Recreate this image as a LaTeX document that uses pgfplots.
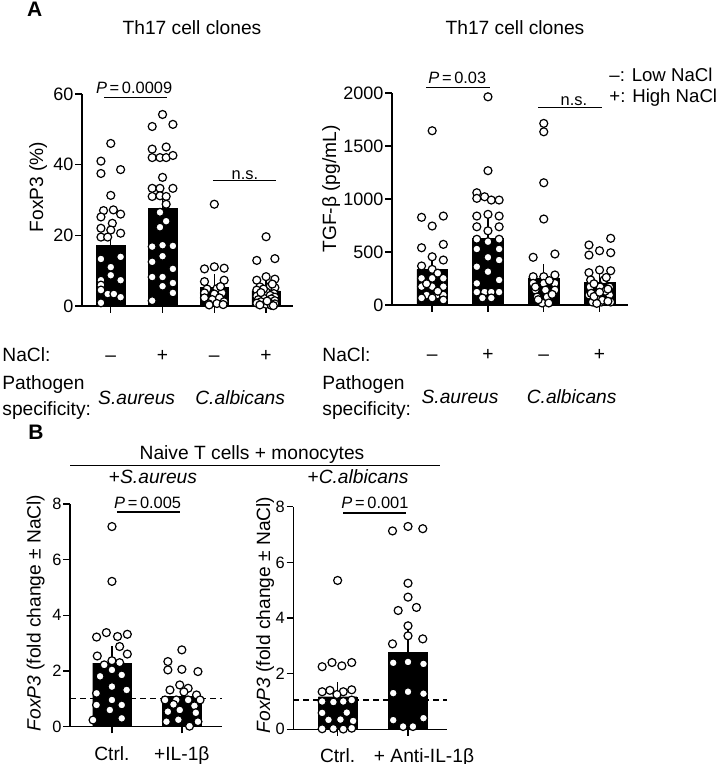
\documentclass[border=0pt]{standalone}
\usepackage{pgfplots}
\pgfplotsset{compat=1.18}
\usepackage{fontspec}
\setmainfont{Liberation Sans}
\newcommand{\lab}{\fontsize{9.6}{11}\selectfont}
\newcommand{\tck}{\fontsize{9}{10}\selectfont}
\newcommand{\tckB}{\fontsize{8.2}{9}\selectfont}
\newcommand{\pv}{\fontsize{8.2}{9.5}\selectfont}
\pgfplotsset{
  panel/.style={
    scale only axis, clip=false,
    axis x line*=bottom, axis y line*=left,
    axis line style={-, line width=0.75pt, black},
    tick align=outside, major tick length=3.3pt,
    tick style={line width=0.7pt, black},
    /pgf/number format/assume math mode=true,
    /pgf/number format/1000 sep={},
    scaled ticks=false,
    ymin=0,
    yticklabel style={inner xsep=0.8pt},
  },
  dots/.style={only marks, mark=*, mark size=2pt,
    mark options={fill=white, draw=black, line width=0.6pt}},
  bars/.style={ybar, bar width=0.55, bar shift=0pt, fill=black, draw=black, line width=0.2pt,
    error bars/.cd, y dir=plus, y explicit,
    error bar style={line width=0.7pt, black},
    error mark options={line width=0.7pt, mark size=4pt, black}},
}
\begin{document}
\begin{tikzpicture}
\useasboundingbox (0,0) rectangle (360pt,382pt);

% ---------------- A left ----------------
\begin{axis}[panel, at={(41pt,229pt)}, anchor=south west,
  width=105.5pt, height=106pt, xmin=-0.556, xmax=3.52, ymax=60,
  ytick={0,20,40,60}, xtick={0,1,2,3},
  xticklabels={\textendash,+,\textendash,+},
  xticklabel style={font=\lab, anchor=base, yshift=-24.7pt},
  yticklabel style={font=\tck}]
\addplot[bars] coordinates {(0,17.2) +- (0,2.3) (1,27.7) +- (0,2.2) (2,5.3) +- (0,1.5) (3,4.3) +- (0,0.9)};
\addplot[dots] coordinates {(0,46) (-0.19,41) (-0.19,37.5) (0.19,38.6) (0,31.3) (-0.14,27) (0.05,27.2) (-0.19,25.2) (0.19,26) (0.03,23.4) (-0.19,22) (0,21.5) (0.19,20.6) (-0.19,19.5) (-0.06,19.5) (-0.19,13.3) (0.19,13.9) (0,11) (0,8.7) (-0.19,7.3) (0.19,7.3) (-0.19,5.9) (-0.06,3.4) (0.06,3.4) (-0.19,4.5) (0.19,2.5) (-0.19,0.9)};
\addplot[dots] coordinates {(1,54.2) (0.8,50.8) (1.2,51.4) (0.8,44.4) (1.07,45) (0.8,42) (0.95,42) (1.07,42) (1.2,42.6) (1,36.4) (0.8,33.3) (0.95,33.3) (1.2,33.3) (0.8,31) (0.95,31.2) (1.07,31) (1.07,28.8) (0.95,26.5) (1.07,24) (0.95,22.3) (0.8,16.8) (1,17.2) (1.2,17) (1,14.1) (0.8,12.5) (1.2,10.5) (0.8,8.2) (1,8.2) (1.2,6.5) (1,5.6) (1.2,3.7) (0.8,1.5)};
\addplot[dots] coordinates {(2,28.8) (1.81,10.5) (2,11.1) (2.19,10.7) (1.81,6.9) (2.19,7.3) (1.86,4.8) (2.05,4.9) (1.81,3.7) (2,3.4) (2.15,3.7) (1.81,2.3) (1.96,1.8) (2.1,2.3) (1.89,0.6) (2.05,0.7) (2.19,1.2) (1.9,0.3) (2.12,5.5) (2.17,0.4)};
\addplot[dots] coordinates {(3,19.6) (2.82,12.9) (3.17,13.4) (2.82,7.3) (3,8.3) (3.17,7.6) (2.88,5.4) (3.08,5.6) (3.17,5.2) (2.82,4.5) (3,4.0) (3.15,3.5) (2.88,3.2) (3.08,3.0) (2.82,2.8) (3.17,2.5) (2.95,2.2) (3.1,2.0) (2.85,1.8) (3.17,1.5) (2.9,1.2) (3.05,1.0) (2.82,0.8) (3.17,0.6) (3,0.5) (2.88,0.3) (3.1,0.2) (2.95,4.8) (3.12,6.2) (2.9,3.8) (3.02,1.4) (3.14,0.1)};
\draw[line width=0.65pt] (axis cs:-0.13,58.96) -- (axis cs:1.08,58.96);
\node[font=\pv, anchor=base] at (axis cs:0.45,60.0) {\textit{P}\,=\,0.0009};
\draw[line width=0.65pt] (axis cs:1.97,35.6) -- (axis cs:3.19,35.6);
\node[font=\pv, anchor=base] at (axis cs:2.59,35.9) {n.s.};
\node[font=\lab\itshape, anchor=base] at (axis cs:0.5,0) [yshift=-49.5pt] {S.aureus};
\node[font=\lab\itshape, anchor=base] at (axis cs:2.5,0) [yshift=-49.5pt] {C.albicans};
\end{axis}

% ---------------- A right ----------------
\begin{axis}[panel, at={(196pt,229.5pt)}, anchor=south west,
  width=118pt, height=106pt, xmin=-0.72, xmax=3.51, ymax=2000,
  ytick={0,500,1000,1500,2000}, xtick={0,1,2,3},
  xticklabels={\textendash,+,\textendash,+},
  xticklabel style={font=\lab, anchor=base, yshift=-24.7pt},
  yticklabel style={font=\tck}]
\addplot[bars] coordinates {(0,336) +- (0,72) (1,629) +- (0,135) (2,255) +- (0,55) (3,215) +- (0,65)};
\addplot[dots] coordinates {(0,1644) (-0.19,827) (0.2,839) (0,745) (-0.19,540) (0.2,572) (0,455) (-0.19,368) (0.2,424) (0,336) (-0.19,252) (0,252) (0.2,252) (-0.19,173) (0,173) (0.2,173) (-0.1,94) (0.08,94) (0.2,94) (-0.19,66) (0,66) (0.2,47) (0.1,300) (-0.1,200) (0.1,130)};
\addplot[dots] coordinates {(1,1964) (1,1267) (0.8,1059) (0.8,1006) (0.94,1021) (1.06,990) (1.2,990) (0.8,839) (1,855) (1.2,839) (0.8,738) (1.2,738) (0.8,620) (1,597) (1.2,620) (0.8,528) (1.2,528) (1.2,424) (0.8,361) (1,314) (1.2,236) (0.8,204) (0.8,122) (0.94,122) (1.06,122) (1.2,122) (0.9,66) (1.06,66) (1,450) (1,700)};
\addplot[dots] coordinates {(2,1713) (2,1634) (2,1153) (2,811) (1.81,450) (2.2,481) (1.81,267) (2,267) (2.2,283) (1.81,204) (2,204) (2.2,204) (1.85,141) (2.03,141) (2.2,141) (1.88,75) (2.06,75) (1.97,19) (2.09,19) (2.15,100) (1.85,170) (2.1,230) (1.9,50)};
\addplot[dots] coordinates {(3.2,629) (2.81,566) (3,512) (3.2,493) (2.81,471) (2.81,305) (3,330) (3.2,323) (2.84,236) (3.08,236) (2.83,170) (3.01,170) (3.18,170) (2.81,94) (2.99,94) (3.18,94) (2.87,28) (3.03,28) (3.2,28) (2.96,60) (3.1,130) (2.9,200) (3.15,150) (2.85,110) (3.05,45) (2.95,15) (3.12,260) (2.9,80) (3.15,35) (3,120)};
\draw[line width=0.65pt] (axis cs:-0.11,2053) -- (axis cs:1.04,2053);
\node[font=\pv, anchor=base] at (axis cs:0.45,2091) {\textit{P}\,=\,0.03};
\draw[line width=0.65pt] (axis cs:1.90,1864) -- (axis cs:3.04,1864);
\node[font=\pv, anchor=base] at (axis cs:2.54,1886) {n.s.};
\node[font=\lab\itshape, anchor=base] at (axis cs:0.5,0) [yshift=-49.5pt] {S.aureus};
\node[font=\lab\itshape, anchor=base] at (axis cs:2.5,0) [yshift=-49.5pt] {C.albicans};
\end{axis}

% ---------------- B left ----------------
\begin{axis}[panel, at={(35pt,18.65pt)}, anchor=south west,
  width=75.85pt, height=111.35pt, xmin=-0.6, xmax=1.57, ymax=8,
  ytick={0,2,4,6,8}, xtick={0,1},
  xticklabels={Ctrl., +IL-1β},
  xticklabel style={font=\lab, anchor=base, yshift=-13.4pt},
  yticklabel style={font=\tckB}]
\draw[line width=0.6pt, dash pattern=on 3pt off 2pt] (axis cs:-0.6,1) -- (axis cs:1.57,1);
\addplot[bars] coordinates {(0,2.28) +- (0,0.33) (1,1.08) +- (0,0.17)};
\addplot[dots] coordinates {(0,7.19) (0,5.22) (-0.22,3.22) (-0.08,3.38) (0.08,3.24) (0.22,3.32) (0.11,2.88) (-0.21,2.54) (0.22,2.61) (0,2.37) (-0.11,2.22) (0.11,2.30) (-0.17,1.81) (0,2.04) (0.14,1.86) (0,1.44) (-0.22,1.2) (0.21,1.32) (0,0.96) (-0.22,0.78) (0.14,0.78) (-0.03,0.6) (-0.27,0.24) (0.14,0.3)};
\addplot[dots] coordinates {(1,2.76) (0.8,2.34) (0.8,2.04) (1,2.06) (1.23,1.98) (0.97,1.5) (0.83,1.32) (1.09,1.38) (1.21,1.14) (0.76,0.96) (0.92,0.96) (1.09,0.96) (1.26,0.96) (0.8,0.54) (0.97,0.6) (0.78,0.18) (0.95,0.25) (1.23,0.18) (1.11,0.02) (1.18,0.75) (0.88,0.8) (1.2,0.5) (1.03,1.25)};
\draw[line width=0.65pt] (axis cs:0.07,7.71) -- (axis cs:0.97,7.71);
\node[font=\pv, anchor=base] at (axis cs:0.51,7.85) {\textit{P}\,=\,0.005};
\end{axis}

% ---------------- B right ----------------
\begin{axis}[panel, at={(146.65pt,17.35pt)}, anchor=south west,
  width=76.7pt, height=111.3pt, xmin=-0.63, xmax=1.55, ymax=8,
  ytick={0,2,4,6,8}, xtick={0,1},
  xticklabels={Ctrl., \hspace*{16pt}+ Anti-IL-1β},
  xticklabel style={font=\lab, anchor=base, yshift=-13.4pt},
  yticklabel style={font=\tckB}]
\draw[line width=0.6pt, dash pattern=on 3pt off 2pt] (axis cs:-0.63,1.05) -- (axis cs:1.55,1.05);
\addplot[bars] coordinates {(0,1.17) +- (0,0.24) (1,2.76) +- (0,0.51)};
\addplot[dots] coordinates {(0,5.35) (-0.22,2.25) (-0.08,2.4) (0.06,2.28) (0.2,2.4) (-0.22,1.35) (-0.11,1.4) (0.08,1.35) (0.2,1.42) (-0.22,1.0) (-0.06,0.98) (0.08,1.0) (0.2,1.05) (-0.01,1.25) (-0.22,0.59) (0.13,0.6) (-0.13,0.34) (0.04,0.35) (0.22,0.3) (-0.22,0.02) (-0.06,0.03) (0.08,0.01) (0.2,0.04)};
\addplot[dots] coordinates {(0.78,7.13) (1,7.29) (1.21,7.21) (1,5.25) (1,4.75) (0.86,4.27) (1.12,4.38) (1,3.72) (1,3.36) (0.78,3.07) (1.21,3.25) (0.79,2.39) (1,2.42) (1.22,2.35) (0.79,1.3) (1,1.35) (1.22,1.28) (0.79,0.33) (0.93,0.1) (1.07,0.1) (1.22,0.4)};
\draw[line width=0.65pt] (axis cs:0.08,7.77) -- (axis cs:0.97,7.77);
\node[font=\pv, anchor=base] at (axis cs:0.53,7.92) {\textit{P}\,=\,0.001};
\end{axis}

% ---------------- texts ----------------
\node[font=\fontsize{10.5}{12}\selectfont\bfseries, anchor=base] at (17.3pt,373.65pt) {A};
\node[font=\lab, anchor=base] at (96pt,364.85pt) {Th17 cell clones};
\node[font=\lab, anchor=base] at (257.5pt,364.85pt) {Th17 cell clones};
\node[font=\fontsize{9.3}{11}\selectfont, anchor=base west, inner sep=0pt] at (304.5pt,341.15pt) {\textendash: Low NaCl};
\node[font=\fontsize{9.3}{11}\selectfont, anchor=base west, inner sep=0pt] at (304.5pt,330.65pt) {+: High NaCl};
\node[font=\lab, anchor=base west, inner sep=0pt] at (1pt,201pt) {NaCl:};
\node[font=\lab, anchor=base west, inner sep=0pt] at (1pt,187pt) {Pathogen};
\node[font=\lab, anchor=base west, inner sep=0pt] at (1pt,174pt) {specificity:};
\node[font=\lab, anchor=base west, inner sep=0pt] at (161pt,201pt) {NaCl:};
\node[font=\lab, anchor=base west, inner sep=0pt] at (161pt,187pt) {Pathogen};
\node[font=\lab, anchor=base west, inner sep=0pt] at (161pt,174pt) {specificity:};
\node[font=\lab, rotate=90, anchor=base] at (21.5pt,288.5pt) {FoxP3 (\%)};
\node[font=\lab, rotate=90, anchor=base] at (168pt,287.5pt) {TGF-β (pg/mL)};
\node[font=\fontsize{10.5}{12}\selectfont\bfseries, anchor=base] at (18pt,162pt) {B};
\node[font=\lab, anchor=base] at (126pt,152pt) {Naive T cells + monocytes};
\draw[line width=0.7pt] (35pt,149.15pt) -- (220pt,149.15pt);
\node[font=\lab, anchor=base] at (76.5pt,140pt) {+\textit{S.aureus}};
\node[font=\lab, anchor=base] at (179pt,140pt) {+\textit{C.albicans}};
\node[font=\lab, rotate=90, anchor=base] at (20.25pt,75.5pt) {\textit{FoxP3} (fold change ± NaCl)};
\node[font=\lab, rotate=90, anchor=base] at (135pt,74.5pt) {\textit{FoxP3} (fold change ± NaCl)};
\end{tikzpicture}
\end{document}
